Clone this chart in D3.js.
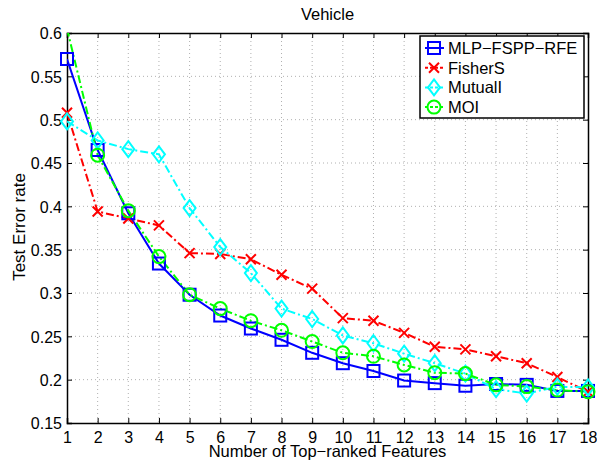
<!DOCTYPE html>
<html>
<head>
<meta charset="utf-8">
<script src="https://cdn.jsdelivr.net/npm/d3@7"></script>
<style>
  body { margin: 0; background: #fff; }
  svg { display: block; }
  text { font-family: "Liberation Sans", Arial, sans-serif; }
</style>
</head>
<body>
<svg id="chart"></svg>
<script>
const features = d3.range(1, 19);
const mlpFsppRfe = [0.570, 0.465, 0.392, 0.334, 0.298, 0.274, 0.259, 0.246, 0.231, 0.219, 0.210, 0.199, 0.196, 0.193, 0.195, 0.194, 0.187, 0.187];
const fisherS = [0.508, 0.394, 0.386, 0.378, 0.346, 0.345, 0.339, 0.321, 0.305, 0.271, 0.268, 0.254, 0.238, 0.235, 0.227, 0.219, 0.203, 0.186];
const mutualI = [0.498, 0.476, 0.466, 0.460, 0.398, 0.353, 0.323, 0.282, 0.270, 0.251, 0.242, 0.230, 0.219, 0.207, 0.189, 0.184, 0.192, 0.191];
const moi = [0.605, 0.459, 0.395, 0.342, 0.298, 0.282, 0.268, 0.257, 0.244, 0.231, 0.227, 0.217, 0.208, 0.207, 0.194, 0.192, 0.188, 0.186];
const yTicks = [0.15, 0.2, 0.25, 0.3, 0.35, 0.4, 0.45, 0.5, 0.55, 0.6];

const series = [
  { name: 'MLP\u2212FSPP\u2212RFE', values: mlpFsppRfe, color: '#0000ff', dash: null, marker: 'square' },
  { name: 'FisherS', values: fisherS, color: '#ff0000', dash: '8,3,2,3', marker: 'x' },
  { name: 'MutualI', values: mutualI, color: '#00ffff', dash: '8,3,2,3', marker: 'diamond' },
  { name: 'MOI', values: moi, color: '#00ff00', dash: '8,3,2,3', marker: 'circle' }
];

const width = 597, height = 466;
const margin = { top: 33, right: 9, bottom: 43, left: 67 };
const innerWidth = width - margin.left - margin.right;
const innerHeight = height - margin.top - margin.bottom;

const svg = d3.select('#chart').attr('width', width).attr('height', height);
const body = svg.append('g').attr('transform', 'translate(' + margin.left + ',' + margin.top + ')');

const x = d3.scaleLinear().domain([1, 18]).range([0, innerWidth]);
const y = d3.scaleLinear().domain([0.15, 0.6]).range([innerHeight, 0]);

// grid
body.append('g').selectAll('line').data(features.slice(1, -1)).enter().append('line')
  .attr('x1', d => x(d)).attr('x2', d => x(d)).attr('y1', 0).attr('y2', innerHeight)
  .attr('stroke', '#b0b0b0').attr('stroke-dasharray', '1,3');
body.append('g').selectAll('line').data(yTicks.slice(1, -1)).enter().append('line')
  .attr('y1', d => y(d)).attr('y2', d => y(d)).attr('x1', 0).attr('x2', innerWidth)
  .attr('stroke', '#b0b0b0').attr('stroke-dasharray', '1,3');

// axes
const fmt = d => String(+d.toFixed(2));
const xAxis = body.append('g').attr('transform', 'translate(0,' + innerHeight + ')')
  .call(d3.axisBottom(x).tickValues(features).tickSize(-5).tickPadding(8).tickFormat(d3.format('d')));
const xTop = body.append('g').call(d3.axisTop(x).tickValues(features).tickSize(-5).tickFormat(''));
const yAxis = body.append('g')
  .call(d3.axisLeft(y).tickValues(yTicks).tickSize(-5).tickPadding(5).tickFormat(fmt));
const yRight = body.append('g').attr('transform', 'translate(' + innerWidth + ',0)')
  .call(d3.axisRight(y).tickValues(yTicks).tickSize(-5).tickFormat(''));
[xAxis, xTop, yAxis, yRight].forEach(a => {
  a.select('.domain').attr('stroke', '#000').attr('stroke-width', 1.5);
  a.selectAll('.tick line').attr('stroke', '#000');
  a.selectAll('text').attr('font-size', 16).attr('fill', '#000')
    .style('font-family', '"Liberation Sans", Arial, sans-serif');
});
xAxis.selectAll('text').attr('dy', '0.75em');
yAxis.selectAll('text').attr('dy', '0.36em');

// clip
svg.append('defs').append('clipPath').attr('id', 'clip')
  .append('rect').attr('width', innerWidth).attr('height', innerHeight);

function drawMarker(g, type, color) {
  if (type === 'square') {
    g.append('rect').attr('x', -6).attr('y', -6).attr('width', 12).attr('height', 12)
      .attr('fill', 'none').attr('stroke', color).attr('stroke-width', 2);
  } else if (type === 'x') {
    g.append('path').attr('d', 'M-5,-5L5,5M-5,5L5,-5')
      .attr('stroke', color).attr('stroke-width', 2).attr('fill', 'none');
  } else if (type === 'diamond') {
    g.append('path').attr('d', 'M0,-8L6,0L0,8L-6,0Z')
      .attr('fill', 'none').attr('stroke', color).attr('stroke-width', 2);
  } else {
    g.append('circle').attr('r', 6.5)
      .attr('fill', 'none').attr('stroke', color).attr('stroke-width', 2);
  }
}

const line = d3.line().x((d, i) => x(features[i])).y(d => y(d));
const plot = body.append('g').attr('clip-path', 'url(#clip)');

series.forEach(s => {
  plot.append('path').datum(s.values)
    .attr('d', line).attr('fill', 'none')
    .attr('stroke', s.color).attr('stroke-width', 2)
    .attr('stroke-dasharray', s.dash);
  s.values.forEach((v, i) => {
    if (v > 0.6) return;
    const g = body.append('g').attr('transform', 'translate(' + x(features[i]) + ',' + y(v) + ')');
    drawMarker(g, s.marker, s.color);
  });
});

// labels
svg.append('text').attr('x', margin.left + innerWidth / 2).attr('y', 20)
  .attr('text-anchor', 'middle').attr('font-size', 16.5).text('Vehicle');
svg.append('text').attr('x', margin.left + innerWidth / 2).attr('y', 457)
  .attr('text-anchor', 'middle').attr('font-size', 16.5).text('Number of Top\u2212ranked Features');
svg.append('text').attr('transform', 'translate(25,227) rotate(-90)')
  .attr('text-anchor', 'middle').attr('font-size', 17).text('Test Error rate');

// legend
const legend = svg.append('g').attr('transform', 'translate(420,36)');
legend.append('rect').attr('width', 164).attr('height', 82)
  .attr('fill', '#fff').attr('stroke', '#000').attr('stroke-width', 1.5);
series.forEach((s, i) => {
  const row = legend.append('g').attr('transform', 'translate(0,' + (12 + i * 19.7) + ')');
  row.append('line').attr('x1', 5).attr('x2', 24).attr('stroke', s.color).attr('stroke-width', 2)
    .attr('stroke-dasharray', s.dash ? '3,2' : null);
  const m = row.append('g').attr('transform', 'translate(14,0)');
  drawMarker(m, s.marker, s.color);
  row.append('text').attr('x', 28).attr('dy', '0.36em').attr('font-size', 16.5).text(s.name);
});
</script>
</body>
</html>
